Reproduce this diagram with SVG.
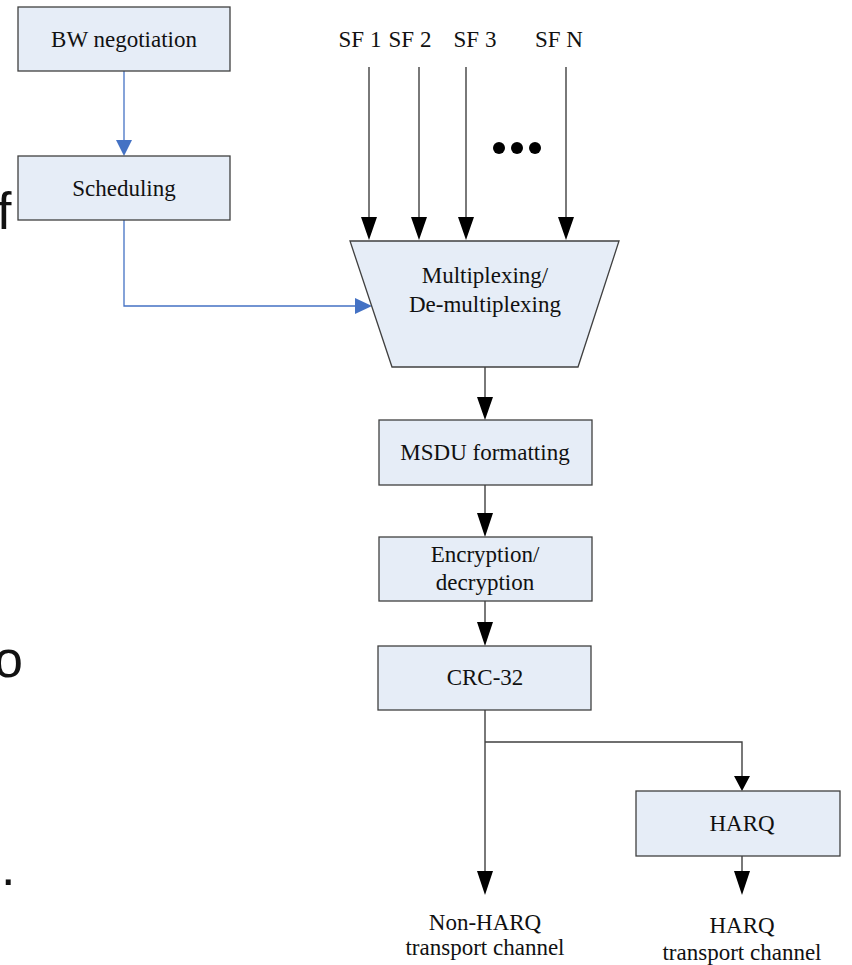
<svg xmlns="http://www.w3.org/2000/svg" width="852" height="965" viewBox="0 0 852 965">
<style>
.box{fill:#E6EDF7;stroke:#404040;stroke-width:1.3}
.t{font-family:"Liberation Serif",serif;font-size:23px;fill:#111;text-anchor:middle}
.big{font-family:"Liberation Sans",sans-serif;font-size:52px;fill:#111}
.blk{stroke:#404040;stroke-width:1.4;fill:none}
.blu{stroke:#4472C4;stroke-width:1.3;fill:none}
</style>
<defs>
<marker id="ab" markerUnits="userSpaceOnUse" markerWidth="18" markerHeight="26" refX="8" refY="23" orient="auto-start-reverse" viewBox="0 0 16 23">
<path d="M0,0 L16,0 L8,23 Z" fill="#000" transform="rotate(0)"/>
</marker>
<marker id="au" markerUnits="userSpaceOnUse" markerWidth="16" markerHeight="17" refX="16" refY="8" orient="auto" viewBox="0 0 16 16">
<path d="M0,0 L16,8 L0,16 Z" fill="#4472C4"/>
</marker>
</defs>
<rect width="852" height="965" fill="#fff"/>
<text class="big" x="-3" y="229">f</text>
<text class="big" x="-6" y="677">o</text>
<text class="big" x="1" y="885">.</text>
<g id="connectors">
<line class="blu" x1="124" y1="71" x2="124" y2="140"/>
<path d="M116,140 L132,140 L124,156 Z" fill="#4472C4"/>
<polyline class="blu" points="124,220 124,306 356,306"/>
<path d="M355,298 L372,306 L355,314 Z" fill="#4472C4"/>
<g class="blk">
<line x1="369" y1="67" x2="369" y2="218"/>
<line x1="419" y1="67" x2="419" y2="218"/>
<line x1="466" y1="67" x2="466" y2="218"/>
<line x1="566" y1="67" x2="566" y2="218"/>
<line x1="485" y1="367" x2="485" y2="398"/>
<line x1="485" y1="485" x2="485" y2="514"/>
<line x1="485" y1="601" x2="485" y2="623"/>
<polyline points="485,710 485,872"/>
<polyline points="485,742 742,742 742,776"/>
<line x1="742" y1="856" x2="742" y2="872"/>
</g>
<g fill="#000">
<path d="M361,217 L377,217 L369,240 Z"/>
<path d="M411,217 L427,217 L419,240 Z"/>
<path d="M458,217 L474,217 L466,240 Z"/>
<path d="M558,217 L574,217 L566,240 Z"/>
<path d="M477,397 L493,397 L485,420 Z"/>
<path d="M477,513 L493,513 L485,537 Z"/>
<path d="M477,622 L493,622 L485,646 Z"/>
<path d="M477,871 L493,871 L485,895 Z"/>
<path d="M734,776 L750,776 L742,791 Z"/>
<path d="M734,871 L750,871 L742,895 Z"/>
</g>
<circle cx="499" cy="148" r="6" fill="#000"/>
<circle cx="517" cy="148" r="6" fill="#000"/>
<circle cx="535" cy="148" r="6" fill="#000"/>
</g>
<g id="bw"><rect class="box" x="18" y="7" width="212" height="64"/><text class="t" x="124" y="47">BW negotiation</text></g>
<g id="sched"><rect class="box" x="18" y="156" width="212" height="64"/><text class="t" x="124" y="196">Scheduling</text></g>
<g id="sf">
<text class="t" x="360" y="47">SF 1</text>
<text class="t" x="410" y="47">SF 2</text>
<text class="t" x="475" y="47">SF 3</text>
<text class="t" x="559" y="47">SF N</text>
</g>
<g id="mux"><polygon class="box" points="350,241 619,241 578,367 392,367"/><text class="t" x="485" y="283">Multiplexing/</text><text class="t" x="485" y="312">De-multiplexing</text></g>
<g id="msdu"><rect class="box" x="379" y="420" width="213" height="65"/><text class="t" x="485" y="460">MSDU formatting</text></g>
<g id="enc"><rect class="box" x="379" y="537" width="213" height="64"/><text class="t" x="485" y="562">Encryption/</text><text class="t" x="485" y="590">decryption</text></g>
<g id="crc"><rect class="box" x="378" y="646" width="213" height="64"/><text class="t" x="485" y="685">CRC-32</text></g>
<g id="harq"><rect class="box" x="636" y="791" width="204" height="65"/><text class="t" x="742" y="831">HARQ</text></g>
<g id="out1"><text class="t" x="485" y="930">Non-HARQ</text><text class="t" x="485" y="955">transport channel</text></g>
<g id="out2"><text class="t" x="742" y="933">HARQ</text><text class="t" x="742" y="960">transport channel</text></g>
</svg>
